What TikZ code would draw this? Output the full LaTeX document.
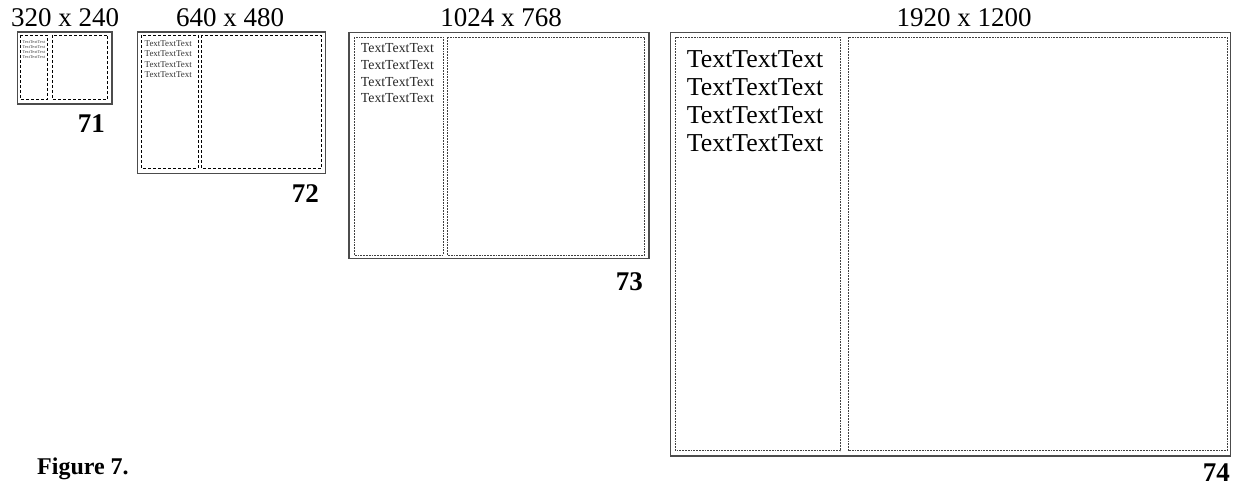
\documentclass[tikz,border=0pt]{standalone}
\usepackage{fontspec}
\setmainfont{Liberation Serif}
\begin{document}
\begin{tikzpicture}[x=1pt,y=-1pt,
  screen/.style={draw=black!70,line width=1.2pt},
  paneA/.style={draw=black,line width=0.9pt,dash pattern=on 3pt off 2pt},
  paneB/.style={draw=black!75,line width=0.8pt,dash pattern=on 1.8pt off 1pt},
  title/.style={inner sep=0pt,anchor=base,font=\fontsize{27}{27}\selectfont},
  num/.style={inner sep=0pt,anchor=base east,font=\fontsize{27}{27}\selectfont\bfseries},
  line/.style={inner sep=0pt,anchor=base west}]
\useasboundingbox (0,0) rectangle (1238,486);

% 320 x 240
\draw[screen] (17.5,32) rectangle (112,104);
\draw[paneA] (20.7,35) rectangle (47.3,99.5);
\draw[paneA] (52.3,35) rectangle (107.5,99.5);
\node[title] (t71) at (65,26.7) {320 x 240};
\node[num] (n71) at (105,133) {71};
\foreach \i in {0,...,3}
  \node[line,text=black!75,font=\fontsize{4.3}{4.3}\selectfont] (a\i) at (22.3,43.1+5*\i) {TextTextText};

% 640 x 480
\draw[screen] (137.7,32) rectangle (325.7,173.7);
\draw[paneA] (141.3,35.3) rectangle (198,168.3);
\draw[paneA] (201.3,35.3) rectangle (321.7,168.3);
\node[title] (t72) at (230,26.7) {640 x 480};
\node[num] (n72) at (319,203) {72};
\foreach \i in {0,...,3}
  \node[line,text=black!80,font=\fontsize{8.9}{8.9}\selectfont] (b\i) at (144.5,46.5+10.3*\i) {TextTextText};

% 1024 x 768
\draw[screen] (349,32.3) rectangle (649,258.3);
\draw[paneB] (354,37.3) rectangle (443.3,255);
\draw[paneB] (447.3,37.3) rectangle (644.7,255);
\node[title] (t73) at (501,26.7) {1024 x 768};
\node[num] (n73) at (643,290) {73};
\foreach \i in {0,...,3}
  \node[line,text=black!85,font=\fontsize{13.8}{13.8}\selectfont] (c\i) at (360.7,52.8+16.7*\i) {TextTextText};

% 1920 x 1200
\draw[screen] (670.5,32.3) rectangle (1230.5,456);
\draw[paneB] (675.6,37.3) rectangle (840.6,450.7);
\draw[paneB] (848,37.3) rectangle (1227,450.7);
\node[title] (t74) at (964,26.7) {1920 x 1200};
\node[num] (n74) at (1230,481) {74};
\foreach \i in {0,...,3}
  \node[line,font=\fontsize{25.8}{25.8}\selectfont] (d\i) at (686.7,67.3+28*\i) {TextTextText};

\node[inner sep=0pt,anchor=base west,font=\fontsize{24}{24}\selectfont\bfseries] (cap) at (37,474) {Figure 7.};
\end{tikzpicture}
\end{document}
